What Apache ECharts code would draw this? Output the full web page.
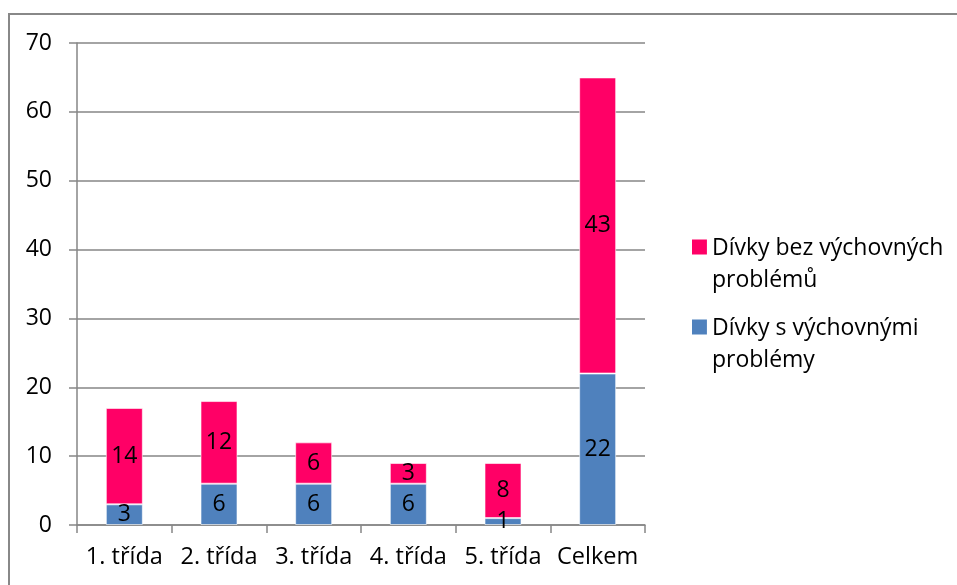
<!DOCTYPE html>
<html>
<head>
<meta charset="utf-8">
<script src="https://cdn.jsdelivr.net/npm/echarts@6/dist/echarts.min.js"></script>
<style>
html,body{margin:0;padding:0;background:#fff;}
#frame{position:absolute;left:8px;top:13px;width:1000px;height:700px;border:2px solid #888;box-sizing:border-box;}
#chart{position:absolute;left:0;top:0;width:957px;height:585px;}
</style>
</head>
<body>
<div id="frame"></div>
<div id="chart"></div>
<script>
const categories = ['1. třída', '2. třída', '3. třída', '4. třída', '5. třída', 'Celkem'];
const withProblems = [3, 6, 6, 6, 1, 22];
const withoutProblems = [14, 12, 6, 3, 8, 43];
const nameWith = 'Dívky s výchovnými\nproblémy';
const nameWithout = 'Dívky bez výchovných\nproblémů';
const yTicks = { min: 0, max: 70, interval: 10 };

const FONT = 'Open Sans';
const chart = echarts.init(document.getElementById('chart'));
const iconPath = 'path://M0,0L14,0L14,14L0,14Z M0,46L0.01,46';
const labelStyle = { show: true, position: 'inside', color: '#000', fontFamily: FONT, fontSize: 23 };
chart.setOption({
  animation: false,
  grid: { left: 77, right: 312, top: 43, bottom: 60 },
  xAxis: {
    type: 'category',
    data: categories,
    axisLine: { lineStyle: { color: '#868686', width: 1.5 } },
    axisTick: { show: true, length: 8, lineStyle: { color: '#868686', width: 1.5 } },
    axisLabel: { color: '#000', fontFamily: FONT, fontSize: 23.5, margin: 20, interval: 0, hideOverlap: false }
  },
  yAxis: {
    type: 'value',
    min: yTicks.min, max: yTicks.max, interval: yTicks.interval,
    axisLine: { show: true, lineStyle: { color: '#868686', width: 1.5 } },
    axisTick: { show: true, length: 8, lineStyle: { color: '#868686', width: 1.5 } },
    splitLine: { lineStyle: { color: '#868686', width: 1.5 } },
    axisLabel: { color: '#000', fontFamily: FONT, fontSize: 23, margin: 25 }
  },
  legend: {
    orient: 'vertical',
    left: 687, top: 227,
    itemWidth: 15, itemHeight: 49,
    itemGap: 16,
    icon: iconPath,
    data: [nameWithout, nameWith],
    itemStyle: { borderWidth: 0 },
    textStyle: { color: '#000', fontFamily: FONT, fontSize: 23, lineHeight: 32, padding: 0 }
  },
  series: [
    {
      name: nameWith, type: 'bar', stack: 'total', barWidth: 37,
      data: withProblems,
      itemStyle: { color: '#4F81BD', borderColor: 'rgba(255,255,255,0.6)', borderWidth: 1 },
      label: labelStyle
    },
    {
      name: nameWithout, type: 'bar', stack: 'total', barWidth: 37,
      data: withoutProblems,
      itemStyle: { color: '#FF0066', borderColor: 'rgba(255,255,255,0.6)', borderWidth: 1 },
      label: labelStyle
    }
  ]
});
</script>
</body>
</html>
